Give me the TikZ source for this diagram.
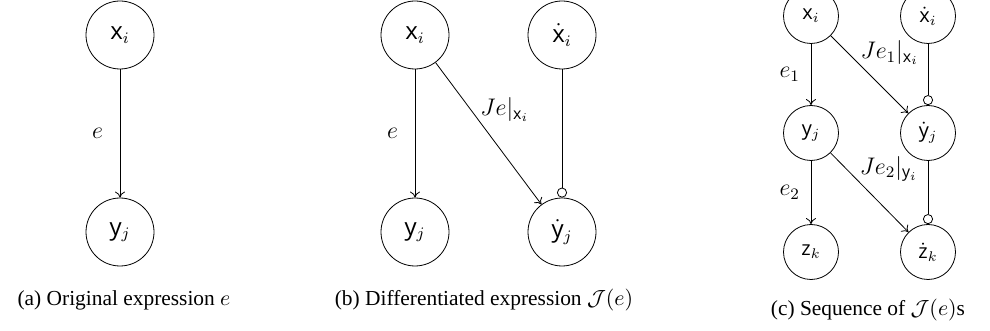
\documentclass[tikz,border=0pt]{standalone}
\usepackage{fontspec}
\setmainfont{Liberation Serif}
\setsansfont{Open Sans}
\usetikzlibrary{arrows.meta}
\tikzset{var/.style={circle,draw,minimum size=34pt,inner sep=0pt,font=\large},
  smallvar/.style={var,minimum size=27.5pt,font=\normalsize},
  dep/.style={-{To[length=3pt,width=5pt]},thin},
  tang/.style={-{Circle[open,length=5pt,width=5pt]},thin},
  lab/.style={font=\large},
  jac/.style={lab,anchor=south west,inner sep=0pt},
  subcap/.style={font=\fontsize{10.7}{13}\selectfont}}

\begin{document}
\begin{tikzpicture}[x=0.5pt,y=-0.5pt]
\useasboundingbox (0,0) rectangle (990,331);
% (a) one expression
\node[var] (xa) at (120,35) {$\mathsf{x}_i$};
\node[var] (ya) at (120,232) {$\mathsf{y}_j$};
\draw[dep] (xa) -- node[lab,left=5pt] {$e$} (ya);
\node[subcap] (capa) at (124,300) {(a) Original expression $e$};
% (b) differentiated expression
\node[var] (xb) at (415,35) {$\mathsf{x}_i$};
\node[var] (yb) at (415,232) {$\mathsf{y}_j$};
\node[var] (xdb) at (562,35) {$\dot{\mathsf{x}}_i$};
\node[var] (ydb) at (562,232) {$\dot{\mathsf{y}}_j$};
\draw[dep] (xb) -- node[lab,left=5pt] {$e$} (yb);
\draw[dep] (xb) -- node[jac,pos=0.42] {$Je|_{\mathsf{x}_i}$} (ydb);
\draw[tang] (xdb) -- (ydb);
\node[subcap] (capb) at (484,300) {(b) Differentiated expression $\mathcal{J}(e)$};
% (c) sequence
\node[smallvar] (xc) at (811,16) {$\mathsf{x}_i$};
\node[smallvar] (yc) at (811,133) {$\mathsf{y}_j$};
\node[smallvar] (zc) at (811,252) {$\mathsf{z}_k$};
\node[smallvar] (xdc) at (928,16) {$\dot{\mathsf{x}}_i$};
\node[smallvar] (ydc) at (928,133) {$\dot{\mathsf{y}}_j$};
\node[smallvar] (zdc) at (928,252) {$\dot{\mathsf{z}}_k$};
\draw[dep] (xc) -- node[lab,left=2pt] {$e_1$} (yc);
\draw[dep] (yc) -- node[lab,left=2pt] {$e_2$} (zc);
\draw[dep] (xc) -- node[jac,pos=0.38] {$Je_1|_{\mathsf{x}_i}$} (ydc);
\draw[dep] (yc) -- node[jac,pos=0.37] {$Je_2|_{\mathsf{y}_i}$} (zdc);
\draw[tang] (xdc) -- (ydc);
\draw[tang] (ydc) -- (zdc);
\node[subcap] (capc) at (868,310) {(c) Sequence of $\mathcal{J}(e)$s};
\end{tikzpicture}
\end{document}
